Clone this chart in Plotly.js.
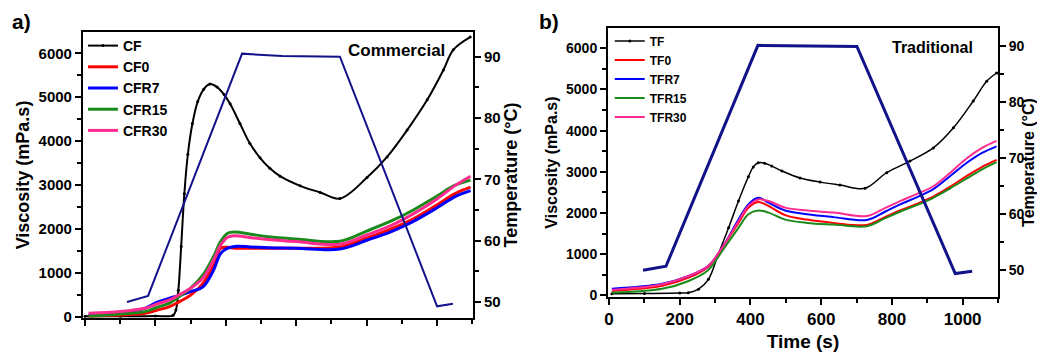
<!DOCTYPE html>
<html>
<head>
<meta charset="utf-8">
<script src="https://cdn.plot.ly/plotly-3.0.1.min.js"></script>
<style>html,body{margin:0;padding:0;background:#fff;}#chart{width:1037px;height:353px;}</style>
</head>
<body>
<div id="chart"></div>
<script>
// ---------- Panel a) Commercial ----------
const timeTempA = [119, 179, 446, 560, 724, 1000, 1045];
const tempA     = [50, 51, 90.5, 90.1, 90, 49.3, 49.7];

const timeCF = [0, 100, 200, 250, 258, 265, 273, 282, 292, 305, 320, 337, 355, 375, 395, 412, 440, 468, 497, 525, 554, 611, 668, 724, 801, 858, 915, 972, 1018, 1046, 1094];
const viscCF = [10, 10, 15, 30, 150, 600, 1600, 2800, 3700, 4400, 4900, 5180, 5300, 5230, 5060, 4850, 4400, 3950, 3620, 3380, 3200, 2980, 2830, 2690, 3170, 3640, 4250, 4940, 5620, 6080, 6370];

const timeA    = [10, 100, 170, 205, 240, 270, 300, 335, 365, 385, 405, 425, 470, 520, 600, 724, 800, 870, 930, 1000, 1050, 1095];
const viscCF0  = [16, 40, 77, 150, 230, 350, 490, 760, 1180, 1560, 1580, 1560, 1560, 1560, 1560, 1590, 1790, 2000, 2220, 2550, 2800, 2950];
const viscCFR7 = [39, 80, 190, 330, 420, 490, 570, 680, 1060, 1440, 1560, 1600, 1590, 1570, 1560, 1540, 1740, 1940, 2160, 2480, 2730, 2870];
const viscCFR15= [15, 60, 115, 215, 310, 470, 650, 950, 1370, 1710, 1900, 1930, 1880, 1820, 1770, 1720, 1950, 2180, 2420, 2750, 2990, 3110];
const viscCFR30= [77, 115, 190, 290, 380, 510, 650, 880, 1290, 1630, 1810, 1845, 1800, 1760, 1710, 1650, 1860, 2080, 2330, 2680, 2980, 3200];

// ---------- Panel b) Traditional ----------
const timeTempB = [96, 161, 421, 560, 701, 979, 1027];
const tempB     = [50, 50.7, 90.2, 90.05, 90, 49.4, 49.8];

const timeTF = [8, 100, 200, 224, 253, 281, 309, 338, 366, 394, 408, 422, 440, 460, 489, 540, 597, 653, 724, 785, 851, 917, 974, 1030, 1068, 1096];
const viscTF = [40, 45, 55, 65, 150, 390, 1000, 1640, 2290, 2880, 3120, 3220, 3210, 3140, 3020, 2850, 2750, 2680, 2600, 2980, 3260, 3580, 4070, 4720, 5200, 5400];

const timeB     = [8, 150, 225, 280, 320, 366, 394, 422, 451, 498, 560, 635, 729, 780, 823, 870, 917, 965, 1012, 1055, 1096];
const viscTF0   = [105, 230, 430, 690, 1160, 1760, 2130, 2270, 2170, 1950, 1840, 1760, 1710, 1900, 2060, 2220, 2400, 2640, 2900, 3120, 3290];
const viscTFR7  = [160, 280, 470, 710, 1160, 1840, 2210, 2370, 2250, 2060, 1970, 1900, 1830, 2030, 2210, 2380, 2580, 2900, 3220, 3460, 3620];
const viscTFR15 = [65, 160, 350, 610, 1080, 1640, 1970, 2060, 2010, 1840, 1760, 1720, 1680, 1870, 2030, 2190, 2370, 2600, 2840, 3060, 3235];
const viscTFR30 = [130, 270, 470, 710, 1160, 1800, 2170, 2330, 2290, 2130, 2060, 2010, 1925, 2120, 2290, 2460, 2650, 2980, 3330, 3580, 3750];

const seriesNamesA = ['CF', 'CF0', 'CFR7', 'CFR15', 'CFR30'];
const seriesNamesB = ['TF', 'TF0', 'TFR7', 'TFR15', 'TFR30'];
const colors = ['#000000', '#ff0000', '#0000ff', '#1a8a1a', '#ff2b8e'];
const tempColor = '#12128a';

const FONT = 'Liberation Sans, Arial, sans-serif';

function visc(x, y, name, color, w, xa, ya, leg, black) {
  return {
    x: x, y: y, name: name, type: 'scatter',
    mode: black ? 'lines+markers' : 'lines',
    line: {color: color, width: w, shape: 'spline', smoothing: 1},
    marker: {color: color, size: 3},
    xaxis: xa, yaxis: ya, legend: leg
  };
}

const traces = [
  visc(timeCF, viscCF, seriesNamesA[0], colors[0], 2, 'x', 'y', 'legend', true),
  visc(timeA, viscCF0, seriesNamesA[1], colors[1], 3, 'x', 'y', 'legend'),
  visc(timeA, viscCFR7, seriesNamesA[2], colors[2], 3, 'x', 'y', 'legend'),
  visc(timeA, viscCFR15, seriesNamesA[3], colors[3], 3, 'x', 'y', 'legend'),
  visc(timeA, viscCFR30, seriesNamesA[4], colors[4], 3, 'x', 'y', 'legend'),
  {x: timeTempA, y: tempA, type: 'scatter', mode: 'lines', line: {color: tempColor, width: 2}, xaxis: 'x', yaxis: 'y2', showlegend: false},

  visc(timeTF, viscTF, seriesNamesB[0], colors[0], 1.5, 'x2', 'y3', 'legend2', true),
  visc(timeB, viscTF0, seriesNamesB[1], colors[1], 2, 'x2', 'y3', 'legend2'),
  visc(timeB, viscTFR7, seriesNamesB[2], colors[2], 2, 'x2', 'y3', 'legend2'),
  visc(timeB, viscTFR15, seriesNamesB[3], colors[3], 2, 'x2', 'y3', 'legend2'),
  visc(timeB, viscTFR30, seriesNamesB[4], colors[4], 2, 'x2', 'y3', 'legend2'),
  {x: timeTempB, y: tempB, type: 'scatter', mode: 'lines', line: {color: tempColor, width: 3}, xaxis: 'x2', yaxis: 'y4', showlegend: false}
];

const axBase = {
  showline: true, linewidth: 2, linecolor: '#000', showgrid: false, zeroline: false,
  ticks: 'outside', ticklen: 6, tickwidth: 2, tickcolor: '#000'
};

const layout = {
  width: 1037, height: 353,
  margin: {l: 0, r: 0, t: 0, b: 0},
  paper_bgcolor: '#fff', plot_bgcolor: '#fff',
  font: {family: FONT, color: '#000'},
  xaxis: Object.assign({}, axBase, {
    domain: [0.0800, 0.4561], range: [-6, 1102], anchor: 'y', mirror: true,
    tick0: 0, dtick: 200, showticklabels: false,
    minor: {ticks: 'outside', ticklen: 4, tickwidth: 1.5, dtick: 100, tickcolor: '#000'}
  }),
  yaxis: Object.assign({}, axBase, {
    domain: [0.0992, 0.9093], range: [-30, 6485], anchor: 'x',
    tick0: 0, dtick: 1000,
    tickfont: {size: 15, weight: 'bold'},
    title: {text: 'Viscosity (mPa.s)', font: {size: 18, weight: 'bold'}, standoff: 4},
    minor: {ticks: 'outside', ticklen: 4, tickwidth: 1.5, dtick: 500, tickcolor: '#000'}
  }),
  yaxis2: Object.assign({}, axBase, {
    overlaying: 'y', side: 'right', anchor: 'x', range: [47.39, 94.03],
    tick0: 0, dtick: 10,
    tickfont: {size: 15, weight: 'bold'},
    title: {text: 'Temperature (°C)', font: {size: 18, weight: 'bold'}, standoff: 2},
    minor: {ticks: 'outside', ticklen: 4, tickwidth: 1.5, dtick: 5, tickcolor: '#000'}
  }),
  xaxis2: Object.assign({}, axBase, {
    domain: [0.5863, 0.9624], range: [-3, 1100], anchor: 'y3', mirror: true,
    tick0: 0, dtick: 200,
    tickfont: {size: 17, weight: 'bold'},
    title: {text: 'Time (s)', font: {size: 19, weight: 'bold'}, standoff: 6},
    minor: {ticks: 'outside', ticklen: 4, tickwidth: 1.5, dtick: 100, tickcolor: '#000'}
  }),
  yaxis3: Object.assign({}, axBase, {
    domain: [0.1586, 0.9207], range: [-40, 6493], anchor: 'x2',
    tick0: 0, dtick: 1000,
    tickfont: {size: 14, weight: 'bold'},
    title: {text: 'Viscosity (mPa.s)', font: {size: 16, weight: 'bold'}, standoff: 4},
    minor: {ticks: 'outside', ticklen: 4, tickwidth: 1.5, dtick: 500, tickcolor: '#000'}
  }),
  yaxis4: Object.assign({}, axBase, {
    overlaying: 'y3', side: 'right', anchor: 'x2', range: [45.2, 93.3],
    tick0: 0, dtick: 10,
    tickfont: {size: 14, weight: 'bold'},
    title: {text: 'Temperature (°C)', font: {size: 16, weight: 'bold'}, standoff: 4},
    minor: {ticks: 'outside', ticklen: 4, tickwidth: 1.5, dtick: 5, tickcolor: '#000'}
  }),
  legend: {
    x: 0.080, y: 0.915, xanchor: 'left', yanchor: 'top', bgcolor: 'rgba(0,0,0,0)',
    font: {size: 14, weight: 'bold'}, tracegroupgap: 0, itemwidth: 30
  },
  legend2: {
    x: 0.588, y: 0.925, xanchor: 'left', yanchor: 'top', bgcolor: 'rgba(0,0,0,0)',
    font: {size: 12, weight: 'bold'}, tracegroupgap: 0, itemwidth: 30
  },
  annotations: [
    {text: 'Commercial', xref: 'paper', yref: 'paper', x: 447 / 1037, y: 1 - 50 / 353, xanchor: 'right', yanchor: 'middle', showarrow: false, font: {size: 17, weight: 'bold'}},
    {text: 'Traditional', xref: 'paper', yref: 'paper', x: 975 / 1037, y: 1 - 47 / 353, xanchor: 'right', yanchor: 'middle', showarrow: false, font: {size: 16, weight: 'bold'}},
    {text: 'a)', xref: 'paper', yref: 'paper', x: 10 / 1037, y: 1 - 21 / 353, xanchor: 'left', yanchor: 'middle', showarrow: false, font: {size: 21, weight: 'bold'}},
    {text: 'b)', xref: 'paper', yref: 'paper', x: 537 / 1037, y: 1 - 22 / 353, xanchor: 'left', yanchor: 'middle', showarrow: false, font: {size: 21, weight: 'bold'}}
  ]
};

Plotly.newPlot('chart', traces, layout, {displayModeBar: false, responsive: false});
</script>
</body>
</html>
